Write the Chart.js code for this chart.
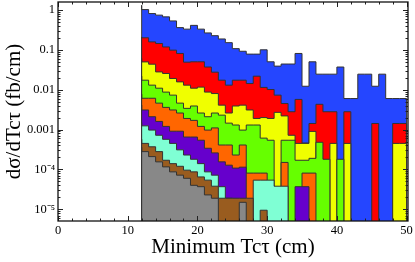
<!DOCTYPE html>
<html><head><meta charset="utf-8">
<script src="https://cdn.jsdelivr.net/npm/chart.js@4.4.1/dist/chart.umd.min.js"></script>
<style>html,body{margin:0;padding:0;background:#fff;} #wrap{width:415px;height:262px;}</style>
</head><body><div id="wrap"><canvas id="c" width="415" height="262"></canvas></div>
<script>
// bin lower edges (cm); every bin is 1 cm wide, last bin ends at 50
const binLow = [12,13,14,15,16,17,18,19,20,21,22,23,24,25,26,27,28,29,30,31,32,33,34,35,36,37,38,39,40,41,42,43,44,45,46,47,48,49];
const binHighEnd = 50;

// series values (fb/cm), 0 = empty bin
const blue   = [1.31,1.02,0.81,0.74,0.67,0.53,0.36,0.33,0.41,0.33,0.265,0.226,0.187,0.151,0.107,0.092,0.078,0.078,0.10,0.050,0.039,0.044,0.044,0.081,0.0122,0.050,0.0245,0.0245,0.0245,0.037,0.0060,0.0060,0.0245,0.0245,0.0122,0.0245,0.0060,0.0060];
const red    = [0.21,0.20,0.158,0.144,0.118,0.098,0.081,0.049,0.050,0.050,0.037,0.0275,0.0173,0.0130,0.0173,0.0173,0.0143,0.0218,0.0114,0.0101,0.0073,0.0045,0.0028,0.0057,0.00046,0.00142,0.0043,0.0028,0.0028,0,0.0028,0,0,0,0.00142,0,0,0.00142];
const yellow = [0.0605,0.0497,0.0436,0.0279,0.0255,0.0191,0.0157,0.0130,0.0109,0.0116,0.0087,0.0080,0.0041,0.0026,0.0039,0.0041,0.0031,0.0019,0.0020,0.0019,0.0027,0.0022,0.00072,0.00045,0.00045,0.0009,0,0,0.00045,0,0.00045,0,0,0,0,0,0,0.00045];
const green  = [0.0218,0.0173,0.0130,0.0109,0.0087,0.0073,0.0046,0.0034,0.0039,0.0026,0.0021,0.0026,0.0023,0.00145,0.0013,0.00097,0.0013,0.0013,0.00061,0.00054,0,0.00054,0.00054,0.00017,0.00017,0.00019,0.00048,0.00018,0,0.00018,0,0,0,0,0,0,0,0];
const orange = [0.0077,0.0061,0.0061,0.0046,0.0036,0.0031,0.0026,0.0019,0.0017,0.0012,0.00097,0.0011,0.00041,0.00041,0.00023,0.00041,8.1e-5,8.1e-5,8.1e-5,4.0e-5,0,0.00015,0,0,8.1e-5,8.1e-5,0,0,0,0,0,0,0,0,0,0,0,0];
const purple = [0.0041,0.0031,0.0021,0.0016,0.0012,0.00091,0.00091,0.00065,0.00065,0.00054,0.00034,0.00026,0.000155,0.000128,0.000108,0.000114,0,0,0,3.0e-5,0,0,0,3.7e-5,3.7e-5,0,0,0,0,0,0,0,0,0,0,0,0,0];
const aqua   = [0.00147,0.00124,0.00097,0.00072,0.00057,0.00045,0.00031,0.00023,0.00018,0.00014,8.7e-5,7.2e-5,3.7e-5,1.9e-5,0,0,0,5.4e-5,5.4e-5,5.4e-5,3.8e-5,3.8e-5,0,0,0,0,0,0,0,0,0,0,0,0,0,0,0,0];
const brown  = [0.00057,0.00045,0.00037,0.00028,0.00017,0.00014,0.00012,9.6e-5,8.7e-5,6.5e-5,5.4e-5,3.8e-5,1.9e-5,1.9e-5,1.9e-5,1.9e-5,1.9e-5,0,9.5e-6,0,0,0,0,0,0,0,0,0,0,0,0,0,0,0,0,0,0,0];
const gray   = [0.00036,0.00028,0.00021,0.000155,0.000116,8.7e-5,7.2e-5,6.0e-5,4.0e-5,3.7e-5,2.3e-5,1.9e-5,0,0,0,1.5e-5,0,0,0,0,0,0,0,0,0,0,0,0,0,0,0,0,0,0,0,0,0,0];

// tick labels
const xTickValues = [0,10,20,30,40,50];
const xTickLabels = ['0','10','20','30','40','50'];
const xMinorTicks = [2,4,6,8,12,14,16,18,22,24,26,28,32,34,36,38,42,44,46,48];
const yTickValues = [1e-5,1e-4,0.001,0.01,0.1,1];
const yTickLabels = ['10\u207B\u2075','10\u207B\u2074','0.001','0.01','0.1','1'];

const FLOOR = 1e-8;
function histPoints(vals){
  const pts = [{x: binLow[0], y: FLOOR}];
  vals.forEach((v,i)=>pts.push({x: binLow[i], y: v>0 ? v : FLOOR}));
  const last = vals[vals.length-1];
  pts.push({x: binHighEnd, y: last>0 ? last : FLOOR});
  pts.push({x: binHighEnd, y: FLOOR});
  return pts;
}

const seriesList = [
  {d: gray,   c:'#888888'},
  {d: brown,  c:'#995C1F'},
  {d: aqua,   c:'#7FFFD4'},
  {d: purple, c:'#6600CC'},
  {d: orange, c:'#FF6600'},
  {d: green,  c:'#66FF00'},
  {d: yellow, c:'#F0FF00'},
  {d: red,    c:'#FF0000'},
  {d: blue,   c:'#2546FF'}
];

const datasets = seriesList.map(s=>({
  data: histPoints(s.d),
  stepped: 'after',
  fill: 'start',
  backgroundColor: s.c,
  borderColor: '#333333',
  borderWidth: 1,
  pointRadius: 0,
  tension: 0
}));

const frameTicks = {
  id: 'frameTicks',
  afterDatasetsDraw(chart){
    const {ctx, chartArea: a, scales: {x, y}} = chart;
    ctx.save();
    ctx.strokeStyle = '#222';
    ctx.lineWidth = 1;
    ctx.beginPath();
    const tx = (v,len)=>{
      const p = Math.round(x.getPixelForValue(v)) + 0.5;
      ctx.moveTo(p, a.bottom); ctx.lineTo(p, a.bottom - len);
      ctx.moveTo(p, a.top); ctx.lineTo(p, a.top + len);
    };
    xTickValues.forEach(v=>tx(v,5));
    xMinorTicks.forEach(v=>tx(v,2.5));
    const ty = (v,len)=>{
      const p = Math.round(y.getPixelForValue(v)) + 0.5;
      if (p < a.top || p > a.bottom) return;
      ctx.moveTo(a.left, p); ctx.lineTo(a.left + len, p);
      ctx.moveTo(a.right, p); ctx.lineTo(a.right - len, p);
    };
    yTickValues.forEach(v=>{
      ty(v,5);
      for (let m=2;m<=9;m++) ty(v*m,2.5);
    });
    ty(1e-6*6,2.5); ty(1e-6*7,2.5); ty(1e-6*8,2.5); ty(1e-6*9,2.5);
    ctx.stroke();
    ctx.lineWidth = 1.3;
    ctx.strokeStyle = '#111';
    ctx.strokeRect(a.left, a.top, a.right - a.left, a.bottom - a.top);
    ctx.restore();
  }
};

new Chart(document.getElementById('c'), {
  type: 'line',
  data: { datasets },
  options: {
    responsive: false,
    animation: false,
    devicePixelRatio: 1,
    layout: { padding: { left: 0, right: 7, top: 2, bottom: 0 } },
    plugins: { legend: {display:false}, tooltip: {enabled:false} },
    scales: {
      x: {
        type: 'linear', min: 0, max: 50.2,
        grid: { display: false, drawTicks: false },
        border: { display: false },
        afterBuildTicks: s => { s.ticks = xTickValues.map(v=>({value:v})); },
        afterFit: s => { s.height = 41; s.paddingLeft = 0; s.paddingRight = 0; },
        ticks: {
          color: '#000', padding: 2, maxRotation: 0,
          font: { family: 'Liberation Serif', size: 12.5 },
          callback: v => { const i = xTickValues.indexOf(v); return i>=0 ? xTickLabels[i] : ''; }
        },
        title: { display: true, text: 'Minimum Tc\u03C4 (cm)', color:'#000',
          font: { family: 'Liberation Serif', size: 21 }, padding: { top: 0, bottom: 2 } }
      },
      y: {
        type: 'logarithmic', min: 5.1e-6, max: 1.58,
        grid: { display: false, drawTicks: false },
        border: { display: false },
        afterBuildTicks: s => { s.ticks = yTickValues.map(v=>({value:v})); },
        afterFit: s => { s.width = 58; s.paddingTop = 0; s.paddingBottom = 0; },
        ticks: {
          color: '#000', padding: 3,
          font: { family: 'Liberation Serif', size: 12.5 },
          callback: v => { const i = yTickValues.findIndex(t=>Math.abs(Math.log10(t)-Math.log10(v))<1e-6); return i>=0 ? yTickLabels[i] : ''; }
        },
        title: { display: true, text: 'd\u03C3/dTc\u03C4 (fb/cm)', color:'#000',
          font: { family: 'Liberation Serif', size: 21 }, padding: { top: 2, bottom: 0 } }
      }
    }
  },
  plugins: [frameTicks]
});
</script>
</body></html>
